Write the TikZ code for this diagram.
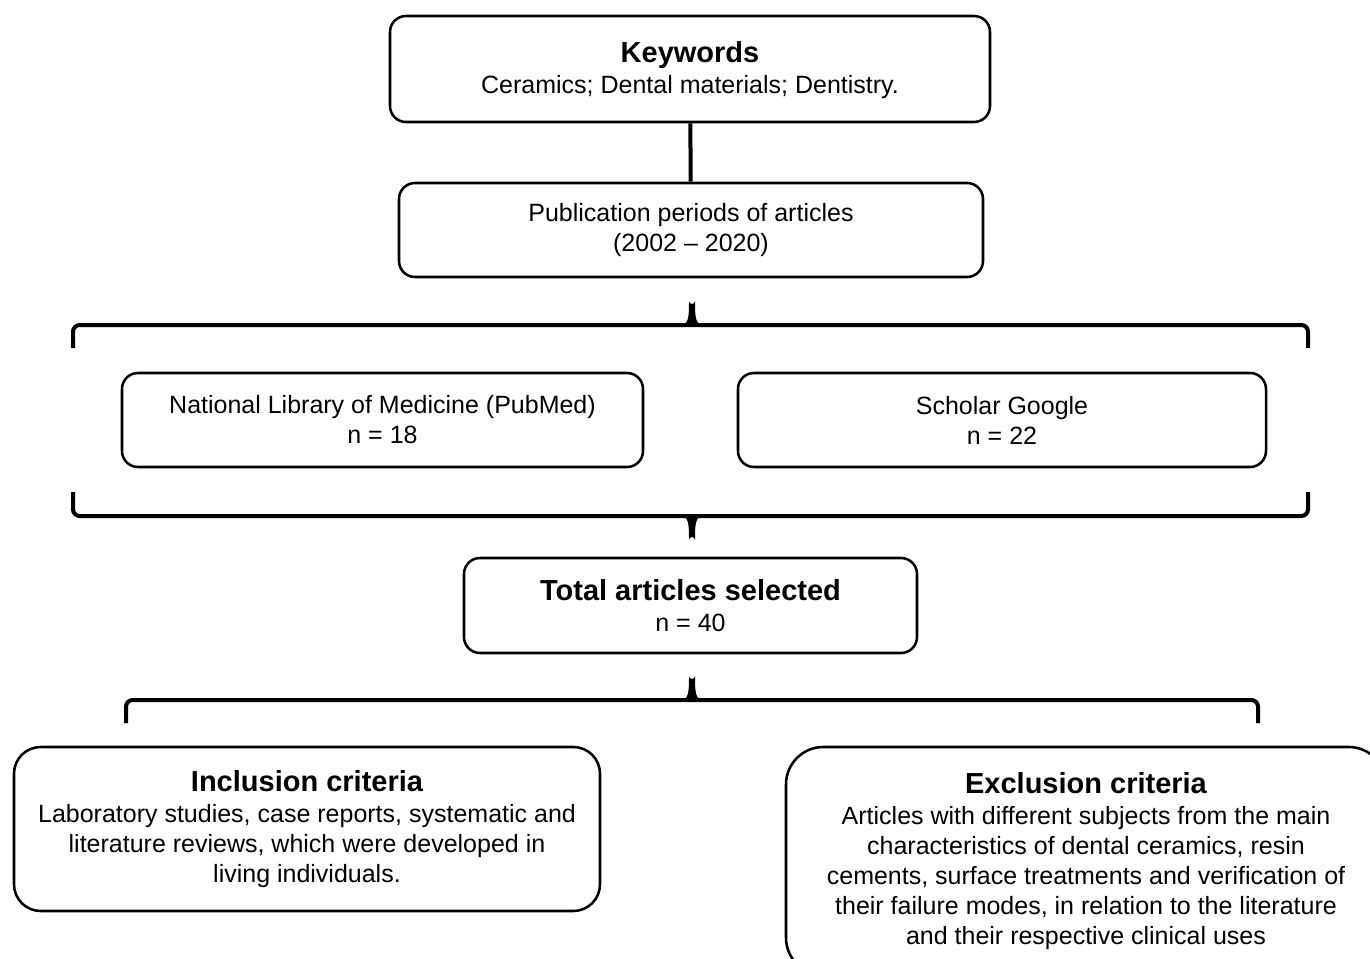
\documentclass[tikz,border=0pt]{standalone}
\usepackage{fontspec}
\setmainfont{Liberation Sans}
\usepackage{tikz}
\usetikzlibrary{calc}

\newcommand{\hd}[1]{{\fontsize{21.75}{24}\selectfont\bfseries #1}\\[1pt]}

\begin{document}
\begin{tikzpicture}[x=0.75pt,y=-0.75pt]
            \tikzstyle{every node}=[draw, line width=1.9pt, rounded corners=12pt, align=center,
                font=\fontsize{18.75}{22.5}\selectfont, inner sep=0pt]
            \tikzstyle{brace}=[line width=3pt, rounded corners=5pt]
            \useasboundingbox (0,0) rectangle (1370,959);
            \clip (0,0) rectangle (1370,959);
            % Boxes
            \node (kw) at (690,69) [minimum width=600*0.75pt, minimum height=106*0.75pt, text depth=2pt]
                {\hd{Keywords}Ceramics; Dental materials; Dentistry.};
            \node (pub) at (691,230) [minimum width=584*0.75pt, minimum height=94*0.75pt]
                {Publication periods of articles\\(2002 -- 2020)};
            \draw [line width=3pt] (kw)--(pub);
            \node (pubmed) at (382.5,420) [minimum width=521*0.75pt, minimum height=94*0.75pt]
                {National Library of Medicine (PubMed)\\n = 18};
            \node (google) at (1002,420) [minimum width=528*0.75pt, minimum height=94*0.75pt]
                {Scholar Google\\n = 22};
            \node (total) at (690.5,605.5) [minimum width=453*0.75pt, minimum height=95*0.75pt]
                {\hd{Total articles selected}n = 40};
            \node (incl) at (307,829) [minimum width=586*0.75pt, minimum height=164*0.75pt, rounded corners=20pt]
                {\hd{Inclusion criteria}Laboratory studies, case reports, systematic and\\
                literature reviews, which were developed in\\living individuals.};
            \node (excl) at (1086,861) [minimum width=600*0.75pt, minimum height=228*0.75pt, rounded corners=28pt]
                {\hd{Exclusion criteria}Articles with different subjects from the main\\
                characteristics of dental ceramics, resin\\
                cements, surface treatments and verification of\\
                their failure modes, in relation to the literature\\
                and their respective clinical uses};
            % Braces
            \draw [brace] (73,348) -- (73,325) -- (1308,325) -- (1308,348);
            \fill (681,325) .. controls (688.5,324) and (689,318) .. (689,301)
                arc (180:0:3) .. controls (695,318) and (695.5,324) .. (703,325) -- cycle;
            \draw [brace] (73,492) -- (73,516) -- (1308,516) -- (1308,492);
            \fill (681,516) .. controls (688.5,517) and (689,523) .. (689,540)
                arc (180:360:3) .. controls (695,523) and (695.5,517) .. (703,516) -- cycle;
            \draw [brace] (126,723) -- (126,700) -- (1258,700) -- (1258,723);
            \fill (681,700) .. controls (688.5,699) and (689,693) .. (689,676)
                arc (180:0:3) .. controls (695,693) and (695.5,699) .. (703,700) -- cycle;
        \end{tikzpicture}
\end{document}
